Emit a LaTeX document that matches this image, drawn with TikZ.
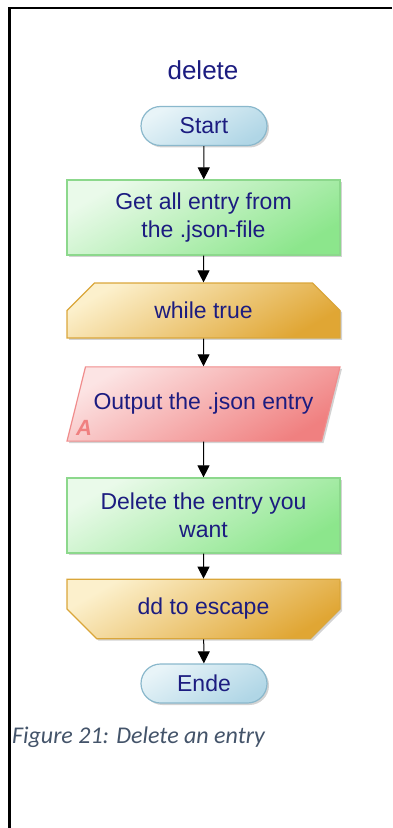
\documentclass[tikz,border=0pt]{standalone}
\usepackage{fontspec}
\setmainfont{Liberation Sans}
\newfontfamily\captionfont{Carlito}
\usetikzlibrary{shapes.geometric, shapes.misc, shadows, arrows.meta}
\definecolor{textblue}{RGB}{28,28,128}
\definecolor{termline}{RGB}{138,184,204}
\definecolor{termlight}{RGB}{232,244,248}
\definecolor{termdark}{RGB}{176,214,230}
\definecolor{procline}{RGB}{140,216,140}
\definecolor{proclight}{RGB}{234,250,234}
\definecolor{procdark}{RGB}{140,230,140}
\definecolor{loopline}{RGB}{218,166,58}
\definecolor{looplight}{RGB}{252,240,204}
\definecolor{loopdark}{RGB}{224,166,52}
\definecolor{ioline}{RGB}{240,140,140}
\definecolor{iolight}{RGB}{252,228,228}
\definecolor{iodark}{RGB}{240,128,128}
\definecolor{captiongray}{RGB}{68,84,106}
\begin{document}
\begin{tikzpicture}[x=0.5pt, y=-0.5pt,
  base/.style={draw, line width=0.6pt, text=textblue, font=\fontsize{11.5}{14}\selectfont,
    align=center, inner sep=0pt,
    drop shadow={shadow xshift=1pt, shadow yshift=-1pt, opacity=0.35, fill=gray}},
  terminal/.style={base, rounded rectangle, draw=termline, top color=termlight,
    bottom color=termdark, shading angle=30, minimum width=63pt, minimum height=19.5pt},
  process/.style={base, rectangle, draw=procline, top color=proclight,
    bottom color=procdark, shading angle=30, minimum width=136.5pt, minimum height=37.5pt},
  loopbox/.style={base, chamfered rectangle, draw=loopline, top color=looplight,
    bottom color=loopdark, shading angle=30, chamfered rectangle xsep=7pt,
    chamfered rectangle ysep=9.5pt, minimum width=136.5pt, minimum height=18.5pt},
  iobox/.style={base, trapezium, trapezium left angle=76, trapezium right angle=104,
    trapezium stretches body, inner ysep=13.2pt, draw=ioline, top color=iolight,
    bottom color=iodark, shading angle=30, minimum width=136.5pt},
  flow/.style={-{Triangle[length=6pt, width=6pt]}, line width=0.5pt}
]
  \useasboundingbox (0, 0) rectangle (392, 828);
  % Frame
  \draw[line width=1.3pt] (9.5, 828) -- (9.5, 8) -- (392, 8);
  % Nodes
  \node (title) [text=textblue, font=\fontsize{13}{15}\selectfont] at (203, 70) {delete};
  \node (start) [terminal] at (204, 126) {Start};
  \node (getall) [process] at (203.5, 217.5) {Get all entry from\\the .json-file};
  \node (whiletrue) [loopbox, chamfered rectangle corners={north west, north east}] at (203.5, 310.5) {while true};
  \node (output) [iobox] at (203.5, 404) {Output the .json entry};
  \node (tagA) [text=iodark, font=\bfseries\itshape\fontsize{11}{13}\selectfont] at (84, 428) {A};
  \node (deleteit) [process] at (203.5, 515.5) {Delete the entry you\\want};
  \node (escape) [loopbox, chamfered rectangle corners={south west, south east}] at (203.5, 609) {dd to escape};
  \node (ende) [terminal] at (204, 683.5) {Ende};
  % Arrows
  \draw[flow] (start) -- (getall);
  \draw[flow] (getall) -- (whiletrue);
  \draw[flow] (whiletrue) -- (output);
  \draw[flow] (output) -- (deleteit);
  \draw[flow] (deleteit) -- (escape);
  \draw[flow] (escape) -- (ende);
  % Caption
  \node (caption) [anchor=west, text=captiongray, font=\captionfont\itshape\fontsize{12}{14}\selectfont] at (5, 737) {Figure 21: Delete an entry};
\end{tikzpicture}
\end{document}
